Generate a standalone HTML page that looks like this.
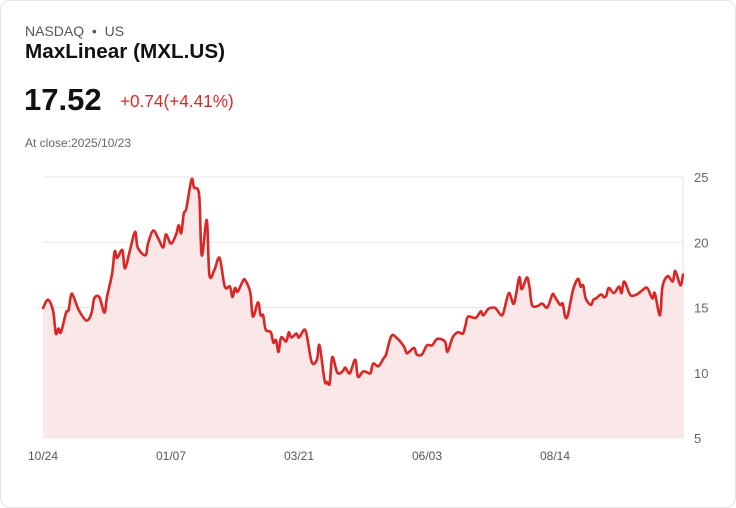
<!DOCTYPE html>
<html><head><meta charset="utf-8"><style>
body{margin:0;background:#fff;font-family:"Liberation Sans",sans-serif;}
.card{position:absolute;left:0;top:0;width:734px;height:506px;border:1px solid #e3e6ea;border-radius:10px;background:#fff;}
.t{position:absolute;white-space:nowrap;}
</style></head><body>
<div class="card">
<div class="t" style="left:24px;top:22px;font-size:14px;color:#555;">NASDAQ &nbsp;•&nbsp; US</div>
<div class="t" style="left:24px;top:39px;font-size:20.7px;font-weight:bold;color:#111;">MaxLinear (MXL.US)</div>
<div class="t" style="left:23px;top:81px;font-size:31px;font-weight:bold;color:#111;">17.52</div>
<div class="t" style="left:119px;top:90px;font-size:17.2px;color:#d92b2b;">+0.74(+4.41%)</div>
<div class="t" style="left:24px;top:135px;font-size:12px;color:#666;">At close:2025/10/23</div>
<svg id="chart" width="736" height="508" style="position:absolute;left:-1px;top:-1px"></svg>
</div>
<script>
const days=[0,2,4,5,6,7,9,10,11,12,14,17,19,20,22,24,25,27,28,29,31,32,34,36,37,40,41,43,45,47,48,50,52,53,54,55,56,58,59,61,62,64,65,67,69,71,73,74,75,76,78,79,81,82,84,85,86,87,89,90,91,92,93,95,96,97,99,100,102,103,105,107,108,110,111,112,113,115,117,118,119,120,122,123,125,127,128,129,131,133,134,136,138,141,142,143,145,146,148,150,152,154,157,158,160,162,164,165,166,169,171,172,174,176,177,179,180,182,184,186,187,189,190,191,193,195,197,199,200,202,203,204,205,207,209,210,211,212,214,215,216,218,219,220,221,223,225,226,227,229,230,232,234,236,238,239,241,242,244,246,247,249,250];
const prices=[14.96,15.6,14.7,13.0,13.4,13.1,14.6,14.8,16.0,15.8,14.8,14.0,14.6,15.7,15.8,14.6,15.8,17.6,19.3,18.8,19.4,18.0,19.4,20.8,19.6,19.0,19.9,20.9,20.3,19.6,20.6,19.9,20.6,21.3,20.7,22.2,22.6,24.8,24.2,23.6,19.0,21.7,17.5,17.9,18.8,16.6,16.6,15.8,16.5,16.2,17.0,17.1,16.1,14.3,15.4,14.4,14.4,13.3,13.1,12.3,12.5,11.6,12.7,12.4,13.1,12.7,13.0,12.7,13.3,12.9,10.8,11.0,12.1,9.4,9.3,9.2,11.2,10.0,10.1,10.4,10.1,10.0,11.0,9.7,10.1,10.0,10.0,10.7,10.5,11.1,11.4,12.8,12.7,12.0,11.5,11.6,11.9,11.4,11.4,12.1,12.1,12.6,12.4,11.6,12.7,13.1,13.0,13.6,14.3,14.2,14.7,14.4,14.9,15.0,14.9,14.4,14.7,16.1,15.3,17.3,16.4,17.3,16.6,15.2,15.1,15.3,15.0,16.0,15.8,15.2,15.3,14.3,14.4,16.3,17.2,16.6,16.7,15.7,15.2,15.6,15.7,16.0,15.8,15.9,16.5,16.1,16.6,16.1,17.0,16.1,15.9,16.0,16.3,16.5,15.7,16.1,14.4,16.6,17.4,17.0,17.8,16.7,17.52];
const yTicks=[5,10,15,20,25];
const xTickDays=[0,50,100,150,200];
const xTickLabels=["10/24","01/07","03/21","06/03","08/14"];
const svg=document.getElementById('chart');const NS='http://www.w3.org/2000/svg';
const X0=43,X1=683,Y0=438,Y1=177,maxDay=250;
const xs=d=>X0+(X1-X0)*d/maxDay, ys=v=>Y0-(Y0-Y1)*(v-5)/20;
function mk(t,a){const e=document.createElementNS(NS,t);for(const k in a)e.setAttribute(k,a[k]);svg.appendChild(e);return e;}
yTicks.forEach(v=>{
 const g=mk('line',{x1:X0,x2:X1,y1:ys(v),y2:ys(v),stroke:'#e6e6e6','stroke-width':1});
 
 
 const t=mk('text',{x:694,y:ys(v)+5,'font-size':13,fill:'#666','font-family':'Liberation Sans, sans-serif'});t.textContent=v;
 
 
});
const ax=mk('line',{x1:X1,x2:X1,y1:Y1,y2:Y0,stroke:'#e0e0e0','stroke-width':1});


xTickDays.forEach((d,i)=>{
 const t=mk('text',{x:xs(d),y:460,'font-size':12,fill:'#555','text-anchor':'middle','font-family':'Liberation Sans, sans-serif'});t.textContent=xTickLabels[i];
 
 
});
const P=days.map((d,i)=>[xs(d),ys(prices[i])]);
let dstr='M'+P[0][0].toFixed(1)+','+P[0][1].toFixed(1);
for(let i=0;i<P.length-1;i++){
 const p0=P[Math.max(0,i-1)],p1=P[i],p2=P[i+1],p3=P[Math.min(P.length-1,i+2)];
 const c1=[p1[0]+(p2[0]-p0[0])/6,p1[1]+(p2[1]-p0[1])/6],c2=[p2[0]-(p3[0]-p1[0])/6,p2[1]-(p3[1]-p1[1])/6];
 dstr+=' C'+c1.map(v=>v.toFixed(1)).join(',')+' '+c2.map(v=>v.toFixed(1)).join(',')+' '+p2.map(v=>v.toFixed(1)).join(',');
}
const area=mk('path',{d:dstr+' L'+P[P.length-1][0]+','+Y0+' L'+P[0][0]+','+Y0+'Z',fill:'#fae7e7'});


const ln=mk('path',{d:dstr,fill:'none',stroke:'#dc2626','stroke-width':2.6,'stroke-linejoin':'round','stroke-linecap':'round'});


</script>
</body></html>
